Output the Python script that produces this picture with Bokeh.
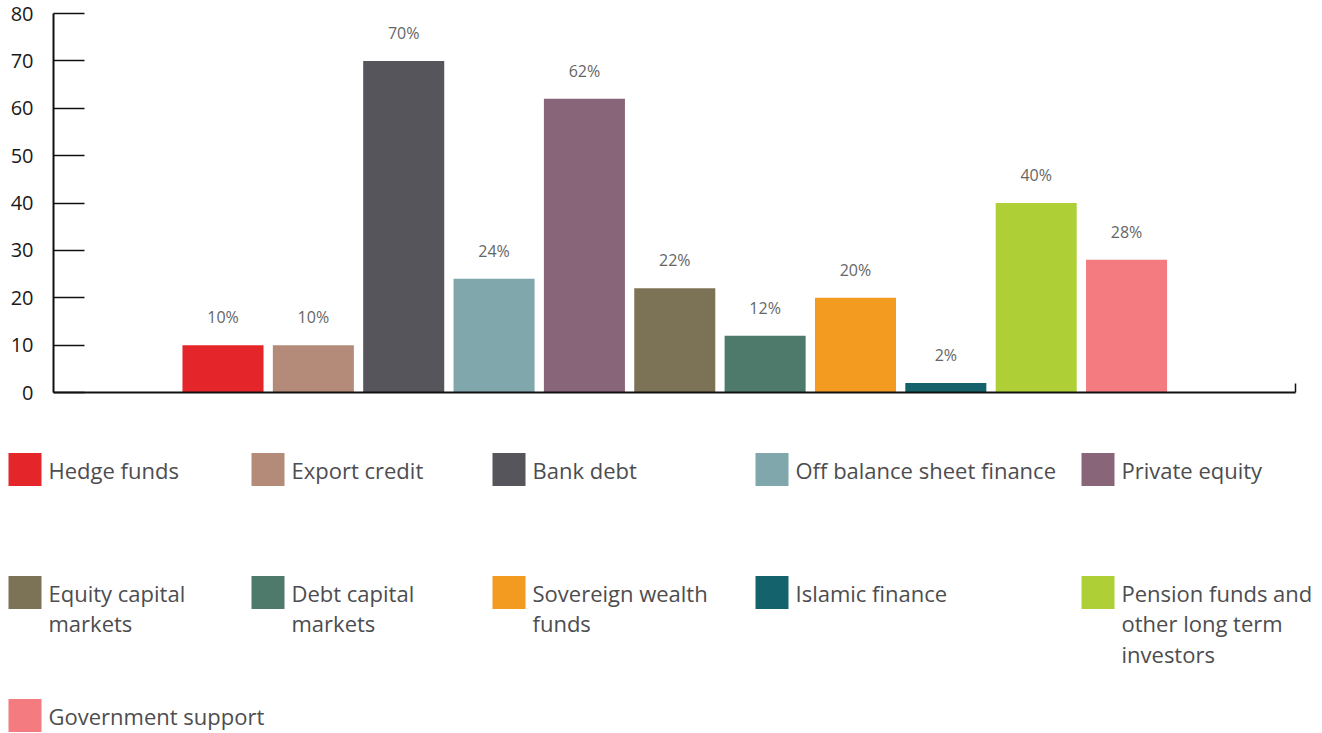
from bokeh.plotting import figure
from bokeh.models import ColumnDataSource, Range1d, FixedTicker, LinearAxis
from bokeh.layouts import column
from bokeh.embed import file_html
from bokeh.resources import INLINE
from bokeh.core.properties import value

# ---- data ----
categories = ["Hedge funds", "Export credit", "Bank debt", "Off balance sheet finance",
              "Private equity", "Equity capital markets", "Debt capital markets",
              "Sovereign wealth funds", "Islamic finance",
              "Pension funds and other long term investors", "Government support"]
legend_labels = ["Hedge funds", "Export credit", "Bank debt", "Off balance sheet finance",
                 "Private equity", "Equity capital\nmarkets", "Debt capital\nmarkets",
                 "Sovereign wealth\nfunds", "Islamic finance",
                 "Pension funds and\nother long term\ninvestors", "Government support"]
values = [10, 10, 70, 24, 62, 22, 12, 20, 2, 40, 28]
colors = ["#e4262a", "#b38b78", "#56555b", "#7fa7ac", "#886578", "#7c7357",
          "#4e7a6c", "#f39a21", "#14636c", "#afcf37", "#f47c81"]
y_ticks = [0, 10, 20, 30, 40, 50, 60, 70, 80]

FONT = "Open Sans"
W = 1320
MAIN_H = 410
LEG_H = 322

xs = list(range(len(categories)))
src = ColumnDataSource(dict(x=xs, top=values, color=colors,
                            label=[f"{v}%" for v in values]))

x_start, x_end = -1.876, 11.870
p = figure(width=W, height=MAIN_H, output_backend="svg", toolbar_location=None,
           x_range=Range1d(x_start, x_end), y_range=Range1d(0, 80),
           x_axis_location=None, y_axis_location=None,
           min_border_left=53, min_border_right=W - 1295, min_border_top=13,
           min_border_bottom=MAIN_H - 392)
p.outline_line_color = None
p.xgrid.visible = False
p.ygrid.visible = False

yax = LinearAxis(ticker=FixedTicker(ticks=y_ticks))
yax.axis_line_color = "#111111"
yax.axis_line_width = 2
yax.major_tick_in = 31
yax.major_tick_out = 0
yax.major_tick_line_color = "#111111"
yax.major_tick_line_width = 1.5
yax.minor_tick_line_color = None
yax.major_label_standoff = 20
yax.major_label_text_font = FONT
yax.major_label_text_font_size = "20px"
yax.major_label_text_color = "#1a1a1a"
p.add_layout(yax, "left")

xax = LinearAxis(ticker=FixedTicker(ticks=[x_end]))
xax.axis_line_color = "#111111"
xax.axis_line_width = 2
xax.major_tick_in = 9
xax.major_tick_out = 0
xax.major_tick_line_color = "#111111"
xax.major_tick_line_width = 1.5
xax.minor_tick_line_color = None
xax.major_label_overrides = {x_end: ""}
xax.major_label_text_font_size = "1px"
xax.major_label_standoff = 0
p.add_layout(xax, "below")

p.vbar(x="x", top="top", width=0.897, color="color", line_color=None, source=src)
p.text(x="x", y="top", text="label", source=src, y_offset=-28,
       text_align="center", text_baseline="middle",
       text_font=value(FONT), text_font_size="16px", text_color="#666666")

# ---- legend figure ----
lg = figure(width=W, height=LEG_H, output_backend="svg", toolbar_location=None,
            x_range=Range1d(0, W), y_range=Range1d(LEG_H, 0),
            x_axis_location=None, y_axis_location=None,
            min_border=0, min_border_left=0, min_border_right=0,
            min_border_top=0, min_border_bottom=0)
lg.outline_line_color = None
lg.xgrid.visible = False
lg.ygrid.visible = False

for fig in (p, lg):
    if "frame_align" in fig.properties():
        fig.frame_align = False

col_x = [8, 251, 492, 755, 1081]
row_y = [59, 182, 305]
sq = 33
lx, ly, tx, ty = [], [], [], []
for i in range(len(categories)):
    c = col_x[i % 5]
    r = row_y[i // 5]
    lx.append(c + sq / 2)
    ly.append(r)
    tx.append(c + 40)
    ty.append(r - 15)
lsrc = ColumnDataSource(dict(x=lx, y=ly, tx=tx, ty=ty, color=colors, text=legend_labels))
lg.rect(x="x", y="y", width=sq, height=sq, color="color", line_color=None, source=lsrc)
lg.text(x="tx", y="ty", text="text", source=lsrc, text_align="left", text_baseline="top",
        text_font=value(FONT), text_font_size="22px", text_color="#4d4d4f",
        text_line_height=1.02)

layout = column(p, lg, spacing=0)
open("out.html", "w").write(file_html(layout, INLINE))
